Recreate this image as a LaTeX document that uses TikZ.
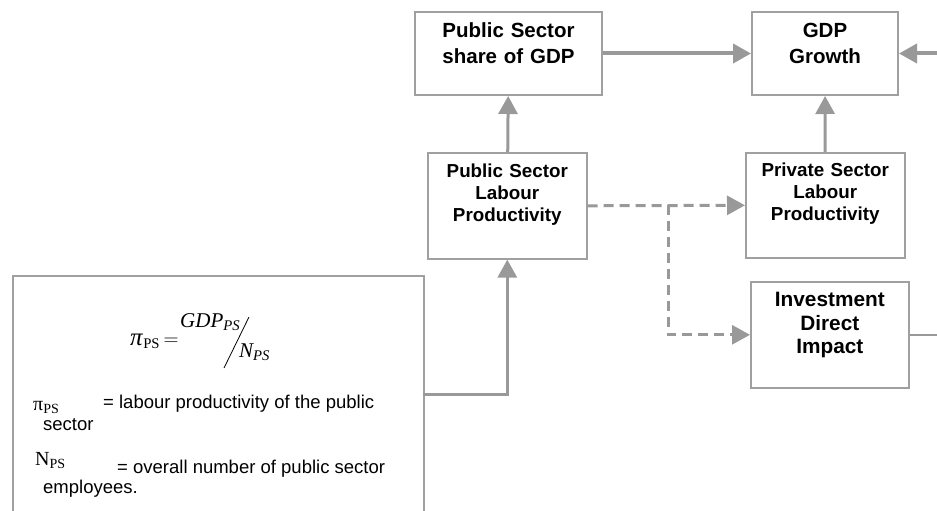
\documentclass[tikz,border=0pt]{standalone}
\usepackage{fontspec}
\setmainfont{Liberation Sans}
\newfontfamily\tms{Liberation Serif}
\usepackage{tikz}
\usetikzlibrary{arrows.meta}
\definecolor{linegrey}{HTML}{999999}
\definecolor{boxgrey}{HTML}{A0A0A0}

\begin{document}
\begin{tikzpicture}[x=1pt,y=-1pt,
    box/.style={draw=boxgrey,line width=2pt,anchor=north west,inner sep=0pt,align=center,
        font=\bfseries\fontsize{20.5}{25}\selectfont},
    smallbox/.style={box,line width=1.6pt,font=\bfseries\fontsize{18.8}{22}\selectfont},
    arr/.style={draw=linegrey,line width=3pt,-{Triangle[length=18pt,width=19pt]}},
    dasharr/.style={arr,dash pattern=on 10pt off 6pt},
    legtext/.style={anchor=base west,inner sep=0pt,font=\fontsize{18.5}{20}\selectfont},
    mathtext/.style={anchor=base west,inner sep=0pt,font=\tms\fontsize{21}{22}\selectfont}]
    \useasboundingbox (0,0) rectangle (937,511);

    \coordinate (rin) at (945,53);
    \coordinate (iout) at (945,334);
    \coordinate (split) at (668,205);
    \coordinate (legout) at (423,394);

    \node[box,text width=187pt,text height=26pt,text depth=57pt] (share) at (414,11) {Public Sector\\share of GDP};
    \node[box,text width=146pt,text height=26pt,text depth=57pt] (growth) at (751,11) {GDP\\Growth};
    \node[smallbox,text width=159pt,text height=25pt,text depth=81pt] (publab) at (427,152) {Public Sector\\Labour\\Productivity};
    \node[smallbox,text width=159pt,text height=24pt,text depth=81pt] (privlab) at (745,152) {Private Sector\\Labour\\Productivity};
    \node[box,line width=1.6pt,font=\bfseries\fontsize{20.8}{23.5}\selectfont,
        text width=158pt,text height=25pt,text depth=81pt] (invest) at (750,281) {Investment\\Direct\\Impact};

    % legend box, its bottom runs off the page
    \node[draw=boxgrey,line width=1.6pt,anchor=north west,inner sep=0pt,
        minimum width=411pt,minimum height=260pt] (legend) at (12,275) {};
    \node[mathtext] (pips) at (130,345) {{\fontsize{25}{26}\selectfont\textit{π}}\textsubscript{PS}\,$=$};
    \node[mathtext] (gdpps) at (180,327) {\textit{GDP\textsubscript{PS}}};
    \node[mathtext] (nps) at (239,357) {\textit{N\textsubscript{PS}}};
    \draw[line width=0.8pt] (224,368) -- (249,317);

    \node[legtext] (pisym) at (33,410) {\tms\fontsize{20}{20}\selectfont π\textsubscript{PS}};
    \node[legtext] (pidef) at (103,408) {= labour productivity of the public};
    \node[legtext] (pidefb) at (43,430) {sector};
    \node[legtext] (nsym) at (35,465) {\tms\fontsize{20}{20}\selectfont N\textsubscript{PS}};
    \node[legtext] (ndef) at (117,473) {= overall number of public sector};
    \node[legtext] (ndefb) at (43,493) {employees.};

    % connectors
    \draw[arr,line width=4pt] (share) -- (growth);
    \draw[arr,line width=4pt] (growth.east -| rin) -- (growth.east);
    \draw[arr] (publab) -- (share);
    \draw[arr] (privlab) -- (growth);
    \draw[arr] (legout) -| (publab.south);
    \draw[dasharr] (publab.east) -- (privlab.west);
    \draw[dasharr] (split) |- (invest.west);
    \draw[draw=linegrey,line width=1.6pt] (invest.east) -- (invest.east -| iout);
\end{tikzpicture}
\end{document}
